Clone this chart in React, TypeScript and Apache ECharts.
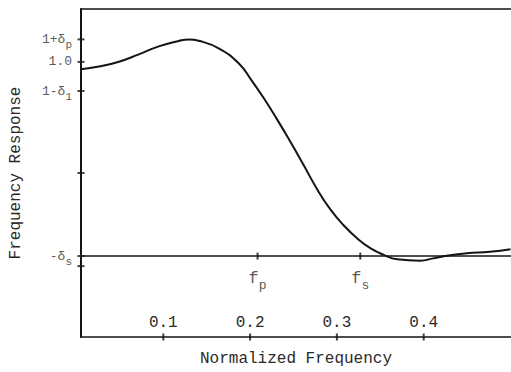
import React, { useEffect, useRef } from "react";
import * as echarts from "echarts";

// Frequency axis (normalized) and response values
const freq = [
  0.0052, 0.0259, 0.0489, 0.0718, 0.0948, 0.1178, 0.1293, 0.1408, 0.1638,
  0.1868, 0.2017, 0.2155, 0.2316, 0.2466, 0.2615, 0.2776, 0.2925, 0.3075,
  0.3236, 0.3385, 0.3534, 0.3695, 0.396, 0.4109, 0.4305, 0.45, 0.4764, 0.5
];
const response = [
  0.962, 0.976, 1.001, 1.039, 1.08, 1.108, 1.116, 1.109, 1.07,
  0.993, 0.905, 0.815, 0.7, 0.587, 0.47, 0.342, 0.24, 0.16,
  0.09, 0.041, 0.007, -0.017, -0.024, -0.012, 0.004, 0.014, 0.022, 0.035
];

const xTickValues = [0.1, 0.2, 0.3, 0.4];
const yTickValues = [1.116, 1.0, 0.85, 0.428, 0, -0.052];
const yLabelValues = [1.116, 1.0, 0.85, 0];
const yLabelMain = ["1+δ", "1.0", "1-δ", "-δ"];
const yLabelSub = ["p", "", "1", "s"];
const edgeFreqs = [0.2086, 0.327];
const edgeSubs = ["p", "s"];
const stopbandLevel = 0;

const X_MIN = 0.0052;
const X_MAX = 0.5006;
const Y_MIN = -0.417;
const Y_MAX = 1.2725;

const FONT = "Liberation Mono";
const INK = "#141414";
const TEXT = "#2a2a2a";

export default function App() {
  const ref = useRef<HTMLDivElement>(null);

  useEffect(() => {
    if (!ref.current) return;
    const chart = echarts.init(ref.current, undefined, { renderer: "svg" });

    const axisLineStyle = { color: INK, width: 1.5 };

    const option: any = {
      animation: false,
      backgroundColor: "#ffffff",
      grid: { left: 80, right: 0, top: 9, bottom: 35 },
      xAxis: [
        {
          type: "value",
          min: X_MIN,
          max: X_MAX,
          position: "bottom",
          name: "Normalized Frequency",
          nameLocation: "middle",
          nameGap: 14,
          nameTextStyle: { fontFamily: FONT, fontSize: 16, color: TEXT },
          axisLine: { show: true, onZero: false, lineStyle: axisLineStyle },
          axisTick: { show: false },
          splitLine: { show: false },
          axisLabel: {
            inside: true,
            margin: 6,
            customValues: xTickValues,
            formatter: (v: number) => v.toFixed(1),
            fontFamily: FONT,
            fontSize: 16,
            color: TEXT,
          },
        },
        {
          type: "value",
          min: X_MIN,
          max: X_MAX,
          position: "top",
          axisLine: { show: true, onZero: false, lineStyle: axisLineStyle },
          axisTick: { show: false },
          axisLabel: { show: false },
          splitLine: { show: false },
        },
      ],
      yAxis: {
        type: "value",
        min: Y_MIN,
        max: Y_MAX,
        name: "Frequency Response",
        nameLocation: "middle",
        nameGap: 57,
        nameTextStyle: { fontFamily: FONT, fontSize: 16, color: TEXT },
        axisLine: { show: true, onZero: false, lineStyle: { color: INK, width: 2 } },
        axisTick: { show: false },
        axisLabel: { show: false },
        splitLine: { show: false },
      },
      series: [
        {
          type: "line",
          data: freq.map((f, i) => [f, response[i]]),
          smooth: 0.5,
          showSymbol: false,
          lineStyle: { color: INK, width: 2 },
          silent: true,
        },
        {
          type: "line",
          data: [
            [X_MIN, stopbandLevel],
            [X_MAX, stopbandLevel],
          ],
          showSymbol: false,
          lineStyle: { color: INK, width: 1.5 },
          silent: true,
        },
        {
          type: "scatter",
          data: xTickValues.map((v) => [v, Y_MIN]),
          symbol: "rect",
          symbolSize: [2, 7],
          itemStyle: { color: INK },
          clip: false,
          silent: true,
        },
        {
          type: "scatter",
          data: yTickValues.map((v) => [X_MIN, v]),
          symbol: "rect",
          symbolSize: [7, 2],
          itemStyle: { color: INK },
          clip: false,
          silent: true,
        },
        {
          type: "scatter",
          data: edgeFreqs.map((f, i) => ({
            value: [f, stopbandLevel],
            label: { formatter: `{m|f}{s|${edgeSubs[i]}}` },
          })),
          symbol: "rect",
          symbolSize: [2, 7],
          itemStyle: { color: INK },
          clip: false,
          silent: true,
          label: {
            show: true,
            position: "bottom",
            distance: 5,
            color: TEXT,
            rich: {
              m: { fontFamily: FONT, fontSize: 17, color: TEXT },
              s: { fontFamily: FONT, fontSize: 13, color: TEXT, padding: [14, 0, 0, 0] },
            },
          },
        },
        {
          type: "scatter",
          data: yLabelValues.map((v, i) => ({
            value: [X_MIN, v],
            label: {
              formatter: yLabelSub[i]
                ? `{m|${yLabelMain[i]}}{s|${yLabelSub[i]}}`
                : `{m|${yLabelMain[i]}}`,
            },
          })),
          symbolSize: 0,
          clip: false,
          silent: true,
          label: {
            show: true,
            position: "left",
            distance: 9,
            color: TEXT,
            rich: {
              m: { fontFamily: FONT, fontSize: 13, color: TEXT },
              s: { fontFamily: FONT, fontSize: 11, color: TEXT, padding: [12, 0, 0, 0] },
            },
          },
        },
      ],
    };

    chart.setOption(option);
    return () => chart.dispose();
  }, []);

  return (
    <div
      ref={ref}
      style={{ position: "fixed", left: 0, top: 0, width: 511, height: 372, background: "#fff" }}
    />
  );
}
